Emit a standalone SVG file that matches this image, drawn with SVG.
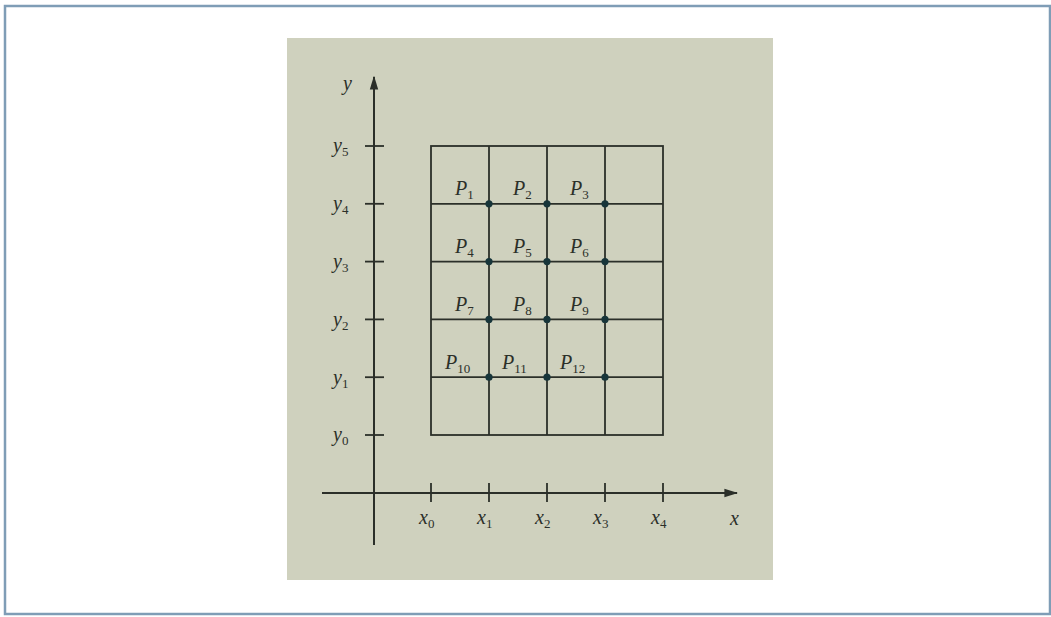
<svg xmlns="http://www.w3.org/2000/svg" width="1051" height="617" viewBox="0 0 1051 617">
<style>
.ln{stroke:#2b2f29;stroke-width:1.8;fill:none}
.ax{stroke:#2b2f29;stroke-width:2;fill:none}
.t{font-family:"Liberation Serif",serif;font-style:italic;font-size:20px;fill:#2b2f29}
.s{font-size:13px;font-style:normal}
.dot{fill:#17353a}
</style>
<defs>
<marker id="ar2" viewBox="0 0 10 10" refX="9" refY="5" markerWidth="14" markerHeight="14" orient="auto" markerUnits="userSpaceOnUse"><path d="M0,2 L10,5 L0,8 Z" fill="#2b2f29"/></marker>
</defs>
<rect x="0" y="0" width="1051" height="617" fill="#ffffff"/>
<rect x="5" y="6" width="1045" height="608" fill="#ffffff" stroke="#7f9db6" stroke-width="2.5"/>
<rect x="287" y="38" width="486" height="542" fill="#cfd1be"/>
<g id="connectors">
<line class="ax" x1="374" y1="545" x2="374" y2="77" marker-end="url(#ar2)"/>
<line class="ax" x1="322" y1="493" x2="737" y2="493" marker-end="url(#ar2)"/>
<g class="ln">
<line x1="365" y1="146" x2="384" y2="146"/>
<line x1="365" y1="203.8" x2="384" y2="203.8"/>
<line x1="365" y1="261.6" x2="384" y2="261.6"/>
<line x1="365" y1="319.4" x2="384" y2="319.4"/>
<line x1="365" y1="377.2" x2="384" y2="377.2"/>
<line x1="365" y1="435" x2="384" y2="435"/>
<line x1="431" y1="483" x2="431" y2="502"/>
<line x1="489" y1="483" x2="489" y2="502"/>
<line x1="547" y1="483" x2="547" y2="502"/>
<line x1="605" y1="483" x2="605" y2="502"/>
<line x1="663" y1="483" x2="663" y2="502"/>
</g>
</g>
<g id="grid" class="ln">
<rect x="431" y="146" width="232" height="289"/>
<line x1="489" y1="146" x2="489" y2="435"/>
<line x1="547" y1="146" x2="547" y2="435"/>
<line x1="605" y1="146" x2="605" y2="435"/>
<line x1="431" y1="203.8" x2="663" y2="203.8"/>
<line x1="431" y1="261.6" x2="663" y2="261.6"/>
<line x1="431" y1="319.4" x2="663" y2="319.4"/>
<line x1="431" y1="377.2" x2="663" y2="377.2"/>
</g>
<g id="axis-labels" class="t">
<text x="343" y="90">y</text>
<text x="730" y="525">x</text>
<text x="333" y="152">y<tspan class="s" dy="4">5</tspan></text>
<text x="333" y="210">y<tspan class="s" dy="4">4</tspan></text>
<text x="333" y="268">y<tspan class="s" dy="4">3</tspan></text>
<text x="333" y="326">y<tspan class="s" dy="4">2</tspan></text>
<text x="333" y="384">y<tspan class="s" dy="4">1</tspan></text>
<text x="333" y="441">y<tspan class="s" dy="4">0</tspan></text>
<text x="419" y="524">x<tspan class="s" dy="4">0</tspan></text>
<text x="477" y="524">x<tspan class="s" dy="4">1</tspan></text>
<text x="535" y="524">x<tspan class="s" dy="4">2</tspan></text>
<text x="593" y="524">x<tspan class="s" dy="4">3</tspan></text>
<text x="651" y="524">x<tspan class="s" dy="4">4</tspan></text>
</g>
<g id="p1"><circle class="dot" cx="489" cy="203.8" r="3.6"/><text class="t" x="455" y="195">P<tspan class="s" dy="4">1</tspan></text></g>
<g id="p2"><circle class="dot" cx="547" cy="203.8" r="3.6"/><text class="t" x="513" y="195">P<tspan class="s" dy="4">2</tspan></text></g>
<g id="p3"><circle class="dot" cx="605" cy="203.8" r="3.6"/><text class="t" x="570" y="195">P<tspan class="s" dy="4">3</tspan></text></g>
<g id="p4"><circle class="dot" cx="489" cy="261.6" r="3.6"/><text class="t" x="455" y="253">P<tspan class="s" dy="4">4</tspan></text></g>
<g id="p5"><circle class="dot" cx="547" cy="261.6" r="3.6"/><text class="t" x="513" y="253">P<tspan class="s" dy="4">5</tspan></text></g>
<g id="p6"><circle class="dot" cx="605" cy="261.6" r="3.6"/><text class="t" x="570" y="253">P<tspan class="s" dy="4">6</tspan></text></g>
<g id="p7"><circle class="dot" cx="489" cy="319.4" r="3.6"/><text class="t" x="455" y="311">P<tspan class="s" dy="4">7</tspan></text></g>
<g id="p8"><circle class="dot" cx="547" cy="319.4" r="3.6"/><text class="t" x="513" y="311">P<tspan class="s" dy="4">8</tspan></text></g>
<g id="p9"><circle class="dot" cx="605" cy="319.4" r="3.6"/><text class="t" x="570" y="311">P<tspan class="s" dy="4">9</tspan></text></g>
<g id="p10"><circle class="dot" cx="489" cy="377.2" r="3.6"/><text class="t" x="445" y="369">P<tspan class="s" dy="4">10</tspan></text></g>
<g id="p11"><circle class="dot" cx="547" cy="377.2" r="3.6"/><text class="t" x="502" y="369">P<tspan class="s" dy="4">11</tspan></text></g>
<g id="p12"><circle class="dot" cx="605" cy="377.2" r="3.6"/><text class="t" x="560" y="369">P<tspan class="s" dy="4">12</tspan></text></g>
</svg>
